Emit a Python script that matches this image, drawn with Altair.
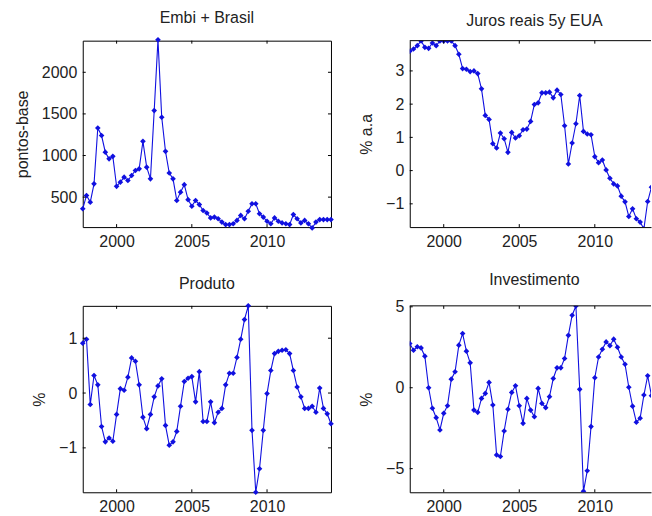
import altair as alt
import pandas as pd

# ---------------- data (quarterly, 1997Q4 .. 2014Q2) ----------------
START = 1997.75
N = 67
dates = [START + 0.25 * i for i in range(N)]

embi = [360, 520, 440, 660, 1330, 1240, 1040, 960, 990, 630,
        680, 740, 700, 760, 820, 840, 1170, 860, 720, 1540,
        2390, 1460, 1050, 790, 720, 460, 560, 650, 470, 390,
        460, 410, 340, 310, 250, 260, 240, 200, 170, 170,
        180, 220, 280, 240, 330, 420, 420, 300, 260, 210,
        180, 250, 210, 190, 180, 170, 290, 240, 190, 220,
        180, 130, 200, 230, 230, 230, 230]

juros = [3.59, 3.66, 3.76, 3.90, 3.71, 3.68, 3.84, 3.76, 3.90, 3.90,
         3.90, 3.90, 3.76, 3.50, 3.07, 3.05, 2.98, 3.00, 2.92, 2.46,
         1.66, 1.54, 0.81, 0.68, 1.13, 0.96, 0.55, 1.15, 0.98, 1.05,
         1.23, 1.25, 1.48, 1.99, 2.04, 2.34, 2.34, 2.36, 2.19, 2.42,
         2.29, 1.35, 0.20, 0.83, 1.41, 2.26, 1.18, 1.10, 1.08, 0.42,
         0.24, 0.32, 0.02, -0.23, -0.40, -0.46, -0.77, -0.94, -1.38, -1.15,
         -1.45, -1.55, -1.75, -0.93, -0.50]

produto = [0.91, 0.98, -0.21, 0.32, 0.15, -0.61, -0.89, -0.82, -0.88, -0.39,
           0.08, 0.05, 0.29, 0.64, 0.58, 0.15, -0.44, -0.65, -0.39, -0.07,
           0.13, 0.26, -0.59, -0.95, -0.89, -0.70, -0.24, 0.21, 0.27, 0.30,
           -0.16, 0.39, -0.52, -0.52, -0.16, -0.54, -0.35, -0.28, 0.15, 0.36,
           0.36, 0.65, 0.98, 1.34, 1.59, -0.68, -1.81, -1.38, -0.68, -0.01,
           0.41, 0.72, 0.76, 0.78, 0.79, 0.72, 0.41, 0.11, -0.07, -0.28,
           -0.28, -0.24, -0.35, 0.09, -0.28, -0.38, -0.56]

investimento = [2.73, 2.32, 2.53, 2.46, 1.95, 0.00, -1.27, -1.85, -2.61, -1.58,
                -1.11, 0.53, 0.99, 2.63, 3.35, 2.26, 1.54, -1.38, -1.52, -0.66,
                -0.35, 0.33, -1.07, -4.15, -4.25, -2.67, -1.33, -0.29, 0.12, -1.11,
                -2.20, -0.66, -1.38, -1.79, -0.04, -0.97, -1.23, -0.55, 0.57, 1.23,
                1.23, 1.81, 3.24, 4.48, 5.05, -0.10, -6.40, -5.13, -2.40, 0.62,
                1.90, 2.38, 2.83, 2.60, 3.00, 2.50, 1.90, 1.45, 0.03, -1.14,
                -2.13, -1.88, -0.45, 0.74, -0.49, -1.40]

x_ticks = [2000, 2005, 2010]
embi_ticks = [500, 1000, 1500, 2000]
juros_ticks = [-1, 0, 1, 2, 3]
produto_ticks = [-1, 0, 1]
invest_ticks = [-5, 0, 5]

FONT = "Liberation Sans"
BLUE = "#1010e0"
TXT = "#222222"
W_LEFT, W_RIGHT, H = 249, 242, 187


def panel(values, title, ytitle, yticks, ydomain, width, xend, cropped):
    df = pd.DataFrame({"t": dates[:len(values)], "v": values})
    xaxis = alt.Axis(values=x_ticks, format="d", title=None, ticks=False, grid=False,
                     domain=cropped, domainColor="black", domainWidth=1,
                     labelPadding=6, labelFont=FONT, labelFontSize=16, labelColor=TXT)
    yaxis = alt.Axis(values=yticks, format="d", title=ytitle, ticks=False, grid=False,
                     domain=cropped, domainColor="black", domainWidth=1,
                     labelPadding=6, labelFont=FONT, labelFontSize=16, labelColor=TXT,
                     titleFont=FONT, titleFontSize=16, titleFontWeight="normal",
                     titleColor=TXT, titlePadding=11)
    xenc = alt.X("t:Q", scale=alt.Scale(domain=[START, xend], nice=False, zero=False), axis=xaxis)
    yenc = alt.Y("v:Q", scale=alt.Scale(domain=ydomain, nice=False, zero=False), axis=yaxis)

    base = alt.Chart(df)
    line = base.mark_line(color=BLUE, strokeWidth=1.1, clip=cropped).encode(x=xenc, y=yenc)
    pts = base.mark_point(shape="diamond", filled=True, size=32, color=BLUE, opacity=1,
                          clip=cropped).encode(x=xenc, y=yenc)

    xt = alt.Chart(pd.DataFrame({"t": x_ticks}))
    yt = alt.Chart(pd.DataFrame({"v": yticks}))
    layers = [
        line, pts,
        xt.mark_rule(color="black").encode(x=xenc, y=alt.value(H), y2=alt.value(H - 3)),
        xt.mark_rule(color="black").encode(x=xenc, y=alt.value(0), y2=alt.value(3)),
        yt.mark_rule(color="black").encode(y=yenc, x=alt.value(0), x2=alt.value(3)),
    ]
    if cropped:
        layers.append(
            alt.Chart(pd.DataFrame({"a": [0]})).mark_rule(color="black").encode(
                x=alt.value(0), x2=alt.value(width), y=alt.value(0))
        )
        view = alt.ViewBackground(stroke="transparent")
        title_dx = 4
    else:
        layers.append(
            yt.mark_rule(color="black").encode(y=yenc, x=alt.value(width - 3), x2=alt.value(width))
        )
        view = alt.ViewBackground(stroke="black", strokeWidth=1)
        title_dx = 0

    return alt.layer(*layers).properties(
        width=width, height=H, view=view,
        title=alt.TitleParams(title, font=FONT, fontSize=16, fontWeight="normal",
                              color=TXT, offset=11, frame="group", anchor="middle",
                              dx=title_dx),
    )


tl = panel(embi, "Embi + Brasil", "pontos-base", embi_ticks, [140, 2380], W_LEFT, 2014.25, False)
tr = panel(juros, "Juros reais 5y EUA", "% a.a", juros_ticks, [-1.70, 3.91], W_RIGHT, 2013.72, True)
bl = panel(produto, "Produto", "%", produto_ticks, [-1.81, 1.59], W_LEFT, 2014.25, False)
br = panel(investimento, "Investimento", "%", invest_ticks, [-6.46, 5.06], W_RIGHT, 2013.72, True)

chart = alt.concat(tl, tr, bl, br, columns=2, spacing=79, bounds="flush").properties(
    padding={"left": 13, "top": 8, "right": 0, "bottom": 0},
    background="white",
).configure_view(stroke="black")

chart.save("out.html", embed_options={"renderer": "svg", "actions": False})
